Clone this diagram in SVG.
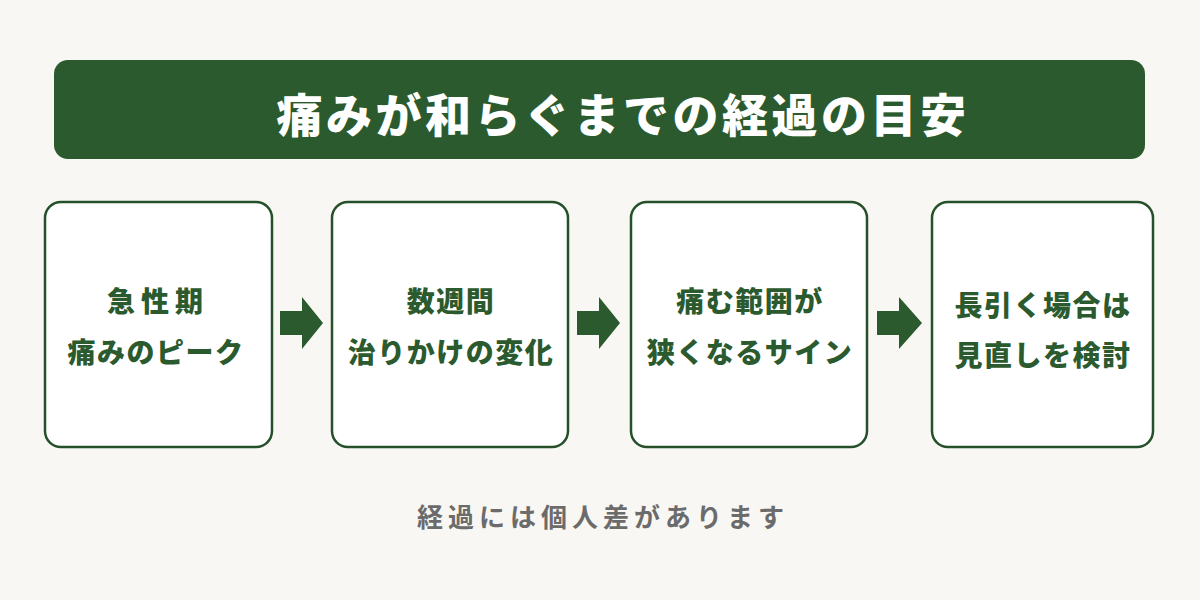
<svg xmlns="http://www.w3.org/2000/svg" width="1200" height="600" viewBox="0 0 1200 600">
<style>
.bg{fill:#f8f7f3}
.hdr{fill:#2b5a2e}
.ttl{font-family:"Noto Sans CJK JP","Noto Sans",sans-serif;font-weight:900;font-size:46px;fill:#ffffff;text-anchor:middle;letter-spacing:3.5px}
.box{fill:#ffffff;stroke:#25502a;stroke-width:2.5}
.lbl{font-family:"Noto Sans CJK JP","Noto Sans",sans-serif;font-weight:900;font-size:28px;fill:#2b5a2e;text-anchor:middle;letter-spacing:1.5px}
.arr{fill:#2b5a2e}
.note{font-family:"Noto Sans CJK JP","Noto Sans",sans-serif;font-weight:700;font-size:26px;fill:#6b6b6b;text-anchor:middle;letter-spacing:5px}
</style>
<rect class="bg" x="0" y="0" width="1200" height="600"/>
<g id="header">
<rect class="hdr" x="54" y="60" width="1091" height="99" rx="14"/>
<text class="ttl" x="623" y="132">痛みが和らぐまでの経過の目安</text>
</g>
<g id="node1">
<rect class="box" x="45" y="202" width="227" height="245" rx="16"/>
<text class="lbl" x="158" y="312" style="letter-spacing:6px">急性期</text>
<text class="lbl" x="156" y="363">痛みのピーク</text>
</g>
<g id="node2">
<rect class="box" x="332" y="202" width="236" height="245" rx="16"/>
<text class="lbl" x="451" y="312">数週間</text>
<text class="lbl" x="451" y="363">治りかけの変化</text>
</g>
<g id="node3">
<rect class="box" x="631" y="202" width="236" height="245" rx="16"/>
<text class="lbl" x="750" y="312">痛む範囲が</text>
<text class="lbl" x="750" y="363">狭くなるサイン</text>
</g>
<g id="node4">
<rect class="box" x="932" y="202" width="221" height="245" rx="16"/>
<text class="lbl" x="1043" y="316">長引く場合は</text>
<text class="lbl" x="1043" y="366">見直しを検討</text>
</g>
<g id="connectors">
<polygon class="arr" points="280,311 302,311 302,297 323,323 302,349 302,335 280,335"/>
<polygon class="arr" points="577,311 599,311 599,297 620,323 599,349 599,335 577,335"/>
<polygon class="arr" points="877,311 899,311 899,297 922,323 899,349 899,335 877,335"/>
</g>
<text class="note" x="603" y="527">経過には個人差があります</text>
</svg>
